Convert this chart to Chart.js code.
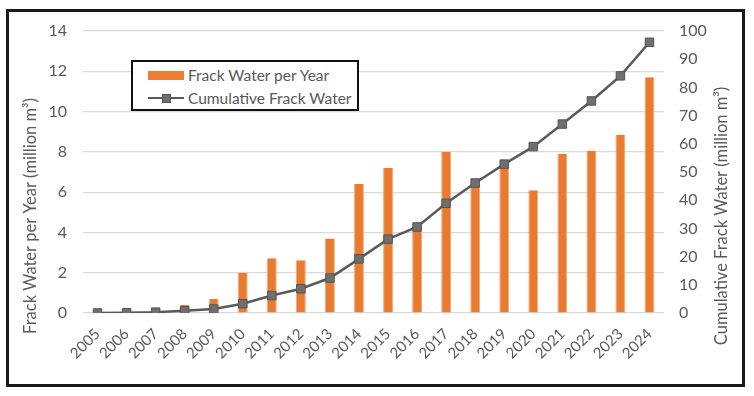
<!doctype html>
<html lang="en">
<head>
  <meta charset="utf-8">
  <title>Frack Water</title>
  <script src="https://cdn.jsdelivr.net/npm/chart.js/dist/chart.umd.min.js"></script>
  <style>
    body { margin: 0; background: #fff; }
    .wrap { position: relative; width: 754px; height: 396px; }
    .frame {
      position: absolute; left: 6px; top: 9px; width: 733px; height: 372px;
      border: 3px solid #1a1a1a; pointer-events: none;
    }
    .legend {
      position: absolute; left: 131px; top: 60px; width: 224px; height: 47px;
      border: 2px solid #111; background: #fff;
      font: 15.5px Lato, "Open Sans", sans-serif; color: #595959;
    }
    .legend .row { position: absolute; left: 14px; height: 20px; line-height: 20px; white-space: nowrap; }
    .legend .sw { display: inline-block; width: 37px; height: 20px; vertical-align: top; position: relative; margin-right: 4px; }
    .legend .bar { position: absolute; left: 1px; top: 6px; width: 36px; height: 9px; background: #ED7D31; }
    .legend .ln { position: absolute; left: 1px; top: 9px; width: 36px; height: 2px; background: #595959; }
    .legend .pt { position: absolute; left: 15px; top: 6px; width: 7px; height: 7px; background: #6f6f6f; border: 1px solid #555; }
  </style>
</head>
<body>
  <div class="wrap">
    <canvas id="myChart" width="754" height="396"></canvas>
    <div class="legend" id="legend"></div>
    <div class="frame"></div>
  </div>
  <script>
    // values
    const years = ['2005','2006','2007','2008','2009','2010','2011','2012','2013','2014',
                   '2015','2016','2017','2018','2019','2020','2021','2022','2023','2024'];
    const perYear = [0, 0.05, 0.1, 0.4, 0.7, 2.0, 2.72, 2.62, 3.7, 6.4,
                     7.2, 4.3, 8.0, 6.47, 7.35, 6.1, 7.9, 8.05, 8.85, 11.7];
    const cumulative = [0, 0.1, 0.3, 0.8, 1.4, 3.3, 6.2, 8.6, 12.4, 19.2,
                        26.2, 30.5, 38.9, 46.1, 52.8, 59.0, 67.0, 75.2, 84.1, 96.0];
    const leftTitle = 'Frack Water per Year (million m³)';
    const rightTitle = 'Cumulative Frack Water (million m³)';

    const fontFam = 'Lato, "Open Sans", sans-serif';
    const grey = '#595959';

    // axis titles, both read bottom to top
    const axisTitles = {
      id: 'axisTitles',
      afterDraw(chart) {
        const ctx = chart.ctx;
        ctx.save();
        ctx.fillStyle = grey;
        ctx.font = '16.5px ' + fontFam;
        ctx.textAlign = 'center';
        ctx.textBaseline = 'middle';
        [[31, leftTitle], [722, rightTitle]].forEach(([x, t]) => {
          ctx.save();
          ctx.translate(x, 216);
          ctx.rotate(-Math.PI / 2);
          ctx.fillText(t, 0, 0);
          ctx.restore();
        });
        ctx.restore();
      }
    };

    const config = {
      data: {
        labels: years,
        datasets: [
          {
            type: 'line',
            label: 'Cumulative Frack Water',
            data: cumulative,
            yAxisID: 'y2',
            borderColor: '#5a5a5a',
            borderWidth: 2.5,
            pointStyle: 'rect',
            pointRadius: 6,
            pointBackgroundColor: '#6f6f6f',
            pointBorderColor: '#555',
            pointBorderWidth: 1,
            tension: 0,
            order: 1
          },
          {
            type: 'bar',
            label: 'Frack Water per Year',
            data: perYear,
            yAxisID: 'y',
            backgroundColor: '#E97B30',
            borderColor: '#F4A872',
            borderWidth: { left: 1, right: 1, top: 0, bottom: 0 },
            barPercentage: 0.34,
            categoryPercentage: 1,
            order: 2
          }
        ]
      },
      options: {
        responsive: false,
        animation: false,
        layout: { padding: { top: 31, left: 0, right: 0, bottom: 0 } },
        plugins: { legend: { display: false }, tooltip: { enabled: false } },
        scales: {
          x: {
            grid: { display: false, drawTicks: false },
            border: { display: false },
            ticks: { color: grey, font: { family: fontFam, size: 15 }, autoSkip: false,
                     minRotation: 45, maxRotation: 45, padding: 12 },
            afterFit: s => { s.height = 83; }
          },
          y: {
            position: 'left',
            min: 0, max: 14,
            grid: { color: '#d9d9d9', lineWidth: 1.2, drawTicks: false },
            border: { display: false },
            ticks: { stepSize: 2, color: grey, font: { family: fontFam, size: 16 }, padding: 16 },
            afterFit: s => { s.width = 83; }
          },
          y2: {
            position: 'right',
            min: 0, max: 100,
            grid: { display: false, drawTicks: false },
            border: { display: false },
            ticks: { stepSize: 10, color: grey, font: { family: fontFam, size: 16 }, padding: 15 },
            afterFit: s => { s.width = 90; }
          }
        }
      },
      plugins: [axisTitles]
    };

    const chart = new Chart(document.getElementById('myChart'), config);

    // legend built from the datasets
    const legend = document.getElementById('legend');
    const order = [1, 0];
    order.forEach((di, i) => {
      const ds = chart.data.datasets[di];
      const row = document.createElement('div');
      row.className = 'row';
      row.style.top = (i === 0 ? 3 : 26) + 'px';
      const sw = ds.type === 'bar'
        ? '<span class="sw"><span class="bar"></span></span>'
        : '<span class="sw"><span class="ln"></span><span class="pt"></span></span>';
      row.innerHTML = sw + ds.label;
      legend.appendChild(row);
    });
  </script>
</body>
</html>
